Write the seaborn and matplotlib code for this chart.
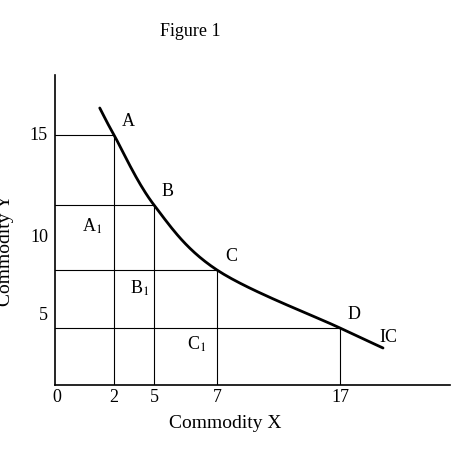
import numpy as np
import matplotlib
matplotlib.use("Agg")
import matplotlib.pyplot as plt
import seaborn as sns

sns.set_style("white")
plt.rcParams['font.family'] = ['Liberation Serif', 'DejaVu Serif']
plt.rcParams['text.color'] = 'black'
plt.rcParams['mathtext.fontset'] = 'stix'

# data
point_labels = ['A', 'B', 'C', 'D']
point_x = [2, 5, 7, 17]
point_y = [15, 11.5, 8, 5]
region_labels = ['A$_1$', 'B$_1$', 'C$_1$']
x_tick_vals = [0, 2, 5, 7, 17]
y_tick_vals = [5, 10, 15]

# schematic (non-linear) axis anchors: value -> drawing position
x_anchor_val = [0, 2, 5, 7, 17, 20]
x_anchor_pos = [57, 114, 154, 217, 340, 383]
y_anchor_val = [0, 5, 8, 11.5, 15, 17]
y_anchor_pos = [385, 328, 270, 205, 135, 108]
y_tick_pos = [315, 238, 135]

def mx(v): return np.interp(v, x_anchor_val, x_anchor_pos)
def my(v): return np.interp(v, y_anchor_val, y_anchor_pos)

fig = plt.figure(figsize=(4.74, 4.74), dpi=100)
ax = fig.add_axes([55/474, 89/474, 395/474, 310/474])
ax.set_xlim(55, 450); ax.set_ylim(385, 75)
ax.set_xticks([]); ax.set_yticks([])
for s in ['top', 'right']:
    ax.spines[s].set_visible(False)
for s in ['left', 'bottom']:
    ax.spines[s].set_color('black'); ax.spines[s].set_linewidth(1.2)

# curve through the points (Catmull-Rom in drawing space)
px = np.array([mx(1.5), *mx(point_x), mx(20)])
py = np.array([108, *my(point_y), 348])
P = np.c_[px, py]
P = np.vstack([P[0]*2-P[1], P, P[-1]*2-P[-2]])
cx, cy = [], []
t = np.linspace(0, 1, 30)[:, None]
for i in range(1, len(P)-2):
    p0, p1, p2, p3 = P[i-1], P[i], P[i+1], P[i+2]
    seg = 0.5*((2*p1) + (-p0+p2)*t + (2*p0-5*p1+4*p2-p3)*t**2 + (-p0+3*p1-3*p2+p3)*t**3)
    cx.extend(seg[:, 0]); cy.extend(seg[:, 1])
sns.lineplot(x=cx, y=cy, sort=False, ax=ax, color='black', lw=2)

for lab, xv, yv in zip(point_labels, point_x, point_y):
    X, Y = mx(xv), my(yv)
    ax.plot([55, X], [Y, Y], color='black', lw=0.8)
    ax.plot([X, X], [Y, 385], color='black', lw=0.8)
    ax.text(X+8, Y-5, lab, fontsize=13, ha='left', va='bottom')

for lab, (x, y) in zip(region_labels, [(92, 226), (140, 288), (197, 344)]):
    ax.text(x, y, lab, fontsize=13, ha='center', va='center')
ax.text(388, 338, 'IC', fontsize=13, ha='center', va='center')

for v in x_tick_vals:
    ax.text(mx(v), 398, str(v), fontsize=13, ha='center', va='center', clip_on=False)
for v, p in zip(y_tick_vals, y_tick_pos):
    ax.text(48, p, str(v), fontsize=13, ha='right', va='center', clip_on=False)

fig.text(190/474, 1-32/474, 'Figure 1', fontsize=13, ha='center', va='center')
fig.text(225/474, 1-423/474, 'Commodity X', fontsize=14, ha='center', va='center')
fig.text(6/474, 1-250/474, 'Commodity Y', fontsize=14, ha='center', va='center', rotation=90)
fig.savefig('out.png', dpi=100)
